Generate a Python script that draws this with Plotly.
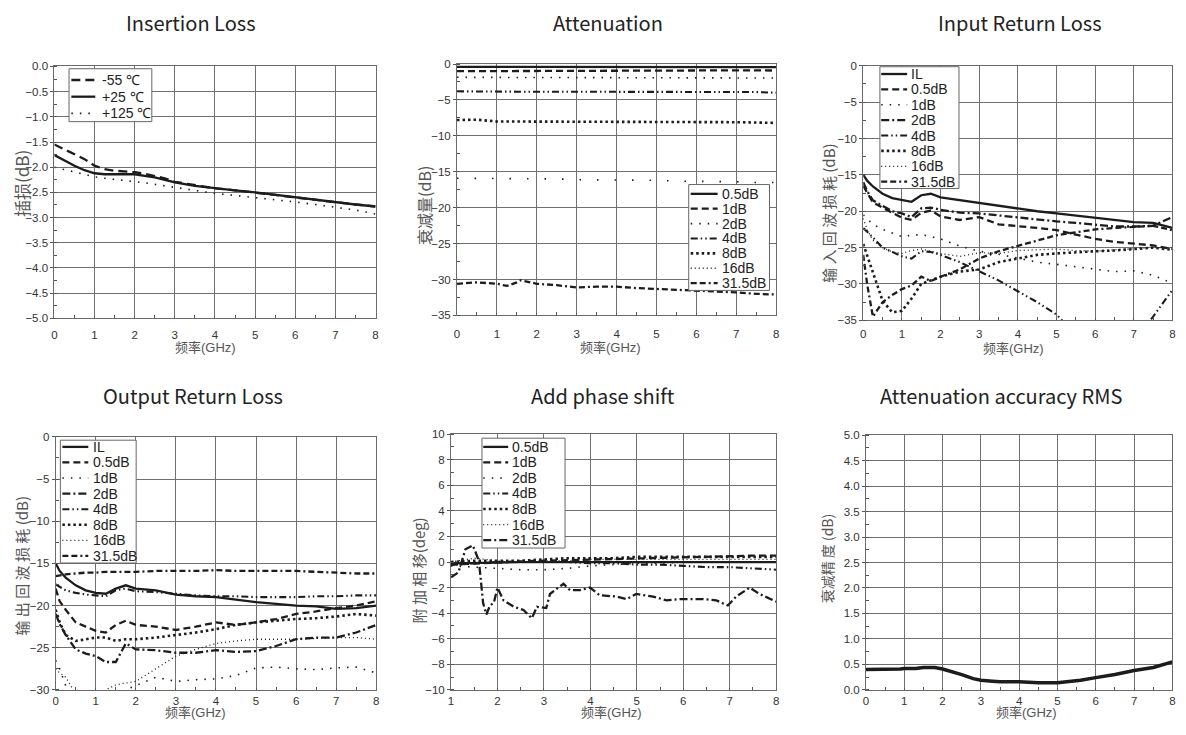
import plotly.graph_objects as go

W, H = 1186, 735
FW, FH = 1170, 719
# measured page mapping (figure px -> photographed px): o = A*f + B
XA, XB = 0.9975, 9.5
YA, YB = 0.9847, 13.2

# ---------------- DATA ----------------
# Panel 1: Insertion Loss
il_freq = [0, 0.25, 0.5, 0.75, 1, 1.25, 1.5, 1.75, 2, 2.25, 2.5, 2.75, 3, 3.5, 4, 4.5, 5, 5.5, 6, 6.5, 7, 7.5, 8]
il_m55 = [-1.55, -1.65, -1.74, -1.84, -1.97, -2.04, -2.07, -2.08, -2.10, -2.13, -2.17, -2.22, -2.29, -2.36, -2.42, -2.46, -2.50, -2.55, -2.60, -2.65, -2.70, -2.74, -2.78]
il_p25 = [-1.76, -1.87, -1.97, -2.06, -2.12, -2.14, -2.14, -2.14, -2.14, -2.17, -2.20, -2.25, -2.30, -2.37, -2.42, -2.46, -2.50, -2.55, -2.60, -2.65, -2.70, -2.74, -2.78]
il_p125 = [-2.00, -2.05, -2.10, -2.15, -2.19, -2.22, -2.24, -2.26, -2.28, -2.31, -2.34, -2.37, -2.40, -2.47, -2.52, -2.56, -2.60, -2.64, -2.69, -2.74, -2.79, -2.85, -2.93]
il_labels = ["-55 ℃", "+25 ℃", "+125 ℃"]

# Panel 2: Attenuation
att_freq = [0, 0.5, 1, 1.25, 1.5, 1.6, 1.75, 2, 2.5, 3, 3.5, 4, 4.5, 5, 5.5, 6, 6.5, 7, 7.5, 8]
att_05 = [-0.40, -0.40, -0.40, -0.40, -0.40, -0.40, -0.40, -0.40, -0.40, -0.40, -0.40, -0.40, -0.40, -0.40, -0.40, -0.40, -0.40, -0.40, -0.40, -0.42]
att_1 = [-1.00, -1.00, -1.00, -1.00, -1.00, -1.00, -1.00, -1.00, -1.00, -1.00, -1.00, -1.00, -1.00, -1.00, -0.95, -0.90, -0.88, -0.88, -0.88, -0.90]
att_2 = [-1.85, -1.85, -1.85, -1.85, -1.85, -1.85, -1.85, -1.85, -1.85, -1.85, -1.85, -1.85, -1.85, -1.85, -1.85, -1.88, -1.90, -1.90, -1.90, -1.95]
att_4 = [-3.80, -3.85, -3.85, -3.85, -3.85, -3.85, -3.85, -3.85, -3.85, -3.85, -3.85, -3.85, -3.85, -3.85, -3.85, -3.85, -3.85, -3.85, -3.90, -4.00]
att_8 = [-7.80, -7.75, -8.00, -8.00, -8.00, -8.00, -8.00, -8.00, -8.00, -8.00, -8.00, -8.00, -8.00, -8.00, -8.05, -8.05, -8.10, -8.10, -8.15, -8.20]
att_16 = [-15.90, -15.90, -16.00, -16.00, -16.00, -16.00, -16.00, -16.00, -16.00, -16.10, -16.10, -16.10, -16.20, -16.20, -16.30, -16.30, -16.40, -16.40, -16.50, -16.50]
att_315 = [-30.60, -30.40, -30.60, -30.90, -30.40, -30.10, -30.30, -30.60, -30.80, -31.10, -31.00, -31.00, -31.20, -31.30, -31.40, -31.50, -31.70, -31.80, -32.00, -32.10]
att_labels = ["0.5dB", "1dB", "2dB", "4dB", "8dB", "16dB", "31.5dB"]

# Panels 3 & 4: Return loss
rl_freq = [0, 0.1, 0.25, 0.5, 0.75, 1, 1.25, 1.5, 1.75, 2, 2.5, 3, 3.5, 4, 4.5, 5, 5.5, 6, 6.5, 7, 7.5, 8]
irl_il = [-15.0, -15.8, -16.6, -17.6, -18.2, -18.5, -18.7, -17.8, -17.6, -18.1, -18.5, -18.9, -19.3, -19.6, -20.0, -20.3, -20.6, -20.9, -21.3, -21.5, -21.6, -22.3]
irl_05 = [-16.5, -17.5, -18.8, -19.5, -20.2, -20.9, -21.2, -20.2, -19.9, -20.7, -21.2, -20.8, -21.8, -22.0, -22.3, -22.6, -23.2, -23.8, -24.2, -24.4, -24.7, -25.2]
irl_1 = [-20.5, -21.0, -21.8, -22.5, -23.0, -23.5, -23.3, -23.2, -23.5, -23.8, -24.8, -25.5, -25.9, -26.5, -27.0, -27.3, -27.6, -27.9, -28.3, -28.2, -28.8, -29.9]
irl_2 = [-16.0, -17.2, -18.5, -19.3, -20.0, -20.3, -20.8, -19.6, -19.5, -19.8, -20.2, -20.3, -20.6, -20.8, -21.2, -21.4, -21.6, -21.8, -22.1, -22.1, -22.0, -20.8]
irl_4 = [-22.3, -22.8, -23.6, -25.0, -25.6, -26.2, -26.5, -25.5, -25.6, -26.0, -27.0, -28.2, -29.5, -31.0, -32.5, -34.2, -37.0, -39.0, -39.0, -38.0, -34.5, -30.8]
irl_8 = [-24.5, -26.0, -28.5, -32.3, -33.9, -33.7, -32.0, -30.0, -29.5, -29.0, -28.3, -28.0, -27.0, -26.5, -26.0, -25.8, -25.6, -25.5, -25.4, -25.2, -25.0, -25.3]
irl_16 = [-21.0, -22.5, -24.0, -25.0, -25.6, -25.8, -25.4, -25.2, -25.5, -25.8, -26.2, -25.7, -25.8, -25.4, -25.3, -25.2, -25.4, -25.5, -25.3, -25.1, -25.0, -25.0]
irl_315 = [-26.0, -30.0, -34.5, -32.5, -31.5, -30.7, -30.2, -29.0, -29.6, -29.0, -28.0, -26.5, -25.5, -24.8, -24.0, -23.3, -22.9, -22.5, -22.3, -22.2, -22.0, -22.6]

orl_il = [-15.0, -15.9, -16.7, -17.6, -18.2, -18.5, -18.6, -18.0, -17.6, -18.0, -18.2, -18.7, -18.9, -19.0, -19.3, -19.6, -19.8, -20.0, -20.1, -20.4, -20.3, -20.0]
orl_05 = [-18.0, -19.5, -20.5, -22.0, -22.5, -23.0, -23.2, -22.3, -21.8, -22.3, -22.5, -22.9, -22.5, -22.0, -22.3, -22.0, -21.6, -21.0, -20.7, -20.3, -20.0, -19.5]
orl_1 = [-26.5, -27.5, -29.5, -31.0, -31.5, -31.0, -30.5, -30.5, -30.0, -29.5, -28.5, -29.0, -28.8, -28.7, -28.3, -27.4, -27.3, -27.5, -27.6, -27.4, -27.3, -28.0]
orl_2 = [-21.0, -22.2, -23.5, -25.2, -25.7, -26.0, -26.7, -26.7, -24.5, -25.2, -25.3, -25.6, -25.6, -25.3, -25.5, -25.4, -24.8, -24.0, -23.8, -23.8, -23.2, -22.3]
orl_4 = [-17.5, -17.8, -18.2, -18.5, -18.7, -18.8, -18.9, -18.2, -18.0, -18.3, -18.4, -18.6, -18.8, -18.9, -18.9, -19.0, -19.0, -19.0, -18.9, -18.9, -18.8, -18.8]
orl_8 = [-20.5, -22.0, -23.5, -24.2, -24.0, -23.8, -23.8, -24.2, -24.0, -24.0, -23.8, -23.5, -23.2, -22.8, -22.3, -22.0, -21.8, -21.6, -21.5, -21.3, -21.0, -21.2]
orl_16 = [-27.5, -28.0, -28.5, -30.5, -31.5, -31.0, -30.0, -29.4, -29.2, -29.0, -27.5, -26.0, -25.2, -24.5, -24.2, -24.0, -24.0, -24.0, -23.9, -23.8, -23.8, -24.0]
orl_315 = [-16.5, -16.4, -16.3, -16.2, -16.1, -16.1, -16.0, -16.0, -16.0, -16.0, -15.9, -15.9, -15.9, -15.8, -15.9, -15.9, -15.9, -15.9, -16.0, -16.1, -16.2, -16.2]
rl_labels = ["IL", "0.5dB", "1dB", "2dB", "4dB", "8dB", "16dB", "31.5dB"]

# Panel 5: Add phase shift
ph_freq = [1, 1.5, 2, 2.5, 3, 3.5, 4, 4.5, 5, 5.5, 6, 6.5, 7, 7.5, 8]
ph_05 = [-0.10, -0.10, -0.05, 0.00, 0.00, 0.00, 0.00, 0.00, 0.00, 0.00, 0.00, 0.00, 0.00, 0.00, 0.00]
ph_1 = [-0.20, -0.10, 0.00, 0.05, 0.10, 0.15, 0.20, 0.25, 0.30, 0.35, 0.40, 0.40, 0.45, 0.50, 0.50]
ph_2 = [-0.30, -0.40, -0.50, -0.60, -0.60, -0.50, -0.30, -0.20, -0.10, -0.10, 0.00, 0.00, 0.00, 0.00, 0.00]
ph_4 = [-0.20, -0.10, 0.00, 0.00, 0.00, 0.00, -0.10, -0.10, -0.20, -0.20, -0.30, -0.40, -0.40, -0.50, -0.60]
ph_8 = [0.00, 0.10, 0.10, 0.10, 0.20, 0.30, 0.30, 0.30, 0.40, 0.40, 0.40, 0.40, 0.40, 0.40, 0.40]
ph_16 = [0.00, 0.30, 0.10, 0.00, 0.10, 0.10, 0.20, 0.20, 0.20, 0.20, 0.20, 0.20, 0.20, 0.20, 0.20]
ph315_freq = [1.0, 1.16, 1.31, 1.47, 1.6, 1.63, 1.69, 1.76, 1.84, 1.92, 2.0, 2.13, 2.35, 2.56, 2.74, 2.85, 3.05, 3.13, 3.28, 3.42,
              3.56, 3.78, 3.99, 4.2, 4.56, 4.78, 4.99, 5.35, 5.64, 5.92, 6.21, 6.43, 6.71, 6.96, 7.14, 7.43, 7.64, 8.0]
ph_315 = [-1.2, -0.8, 1.0, 1.3, 0.1, -1.2, -3.2, -4.1, -3.4, -3.2, -2.0, -3.0, -3.5, -3.75, -4.4, -3.5, -3.6, -2.5, -2.1, -1.7,
          -2.2, -2.2, -2.0, -2.6, -2.7, -2.9, -2.5, -2.7, -3.0, -2.9, -2.9, -2.9, -3.0, -3.4, -2.7, -2.0, -2.5, -3.1]

# Panel 6: Attenuation accuracy RMS
rms_freq = [0, 0.5, 0.9, 1.0, 1.3, 1.5, 1.8, 2.0, 2.2, 2.5, 2.8, 3.0, 3.3, 3.5, 4.0, 4.2, 4.5, 5.0, 5.3, 5.6, 6.0, 6.5, 7.0, 7.5, 8.0]
rms_val = [0.40, 0.40, 0.41, 0.42, 0.42, 0.44, 0.44, 0.41, 0.37, 0.30, 0.22, 0.19, 0.17, 0.16, 0.16, 0.15, 0.14, 0.14, 0.16, 0.19, 0.24, 0.30, 0.38, 0.44, 0.55]

panel_titles = ["Insertion Loss", "Attenuation", "Input Return Loss",
                "Output Return Loss", "Add phase shift", "Attenuation accuracy RMS"]
x_title = "频率(GHz)"
y_titles = ["插损(dB)", "衰减量(dB)", "输 入 回 波 损 耗 (dB)",
            "输 出 回 波 损 耗 (dB)", "附 加 相 移(deg)", "衰减精 度 (dB)"]

# ---------------- STYLES ----------------
INK = "#1c1c1c"
STY = {
    "solid": dict(dash="solid", width=2.3),
    "dash": dict(dash="7px,4px", width=2.3),
    "longdash": dict(dash="9px,5px", width=2.3),
    "sparse": dict(dash="1.5px,7px", width=1.6),
    "vsparse": dict(dash="1.5px,16px", width=1.6),
    "dashdot": dict(dash="8px,3px,2px,3px", width=2.3),
    "dashdotdot": dict(dash="7px,3px,1.5px,3px,1.5px,3px", width=2.1),
    "densedot": dict(dash="2.5px,3px", width=2.6),
    "finedot": dict(dash="1px,3px", width=1.3),
    "dashdashdot": dict(dash="6px,3px,6px,3px,2px,3px", width=2.3),
}


def clamp(v):
    return max(0.0, min(1.0, v))


def px2x(t):
    f = (t - XB) / XA
    return clamp(f / FW)


def px2y(t):
    f = (t - YB) / YA
    return clamp(1 - f / FH)


# plot-area rectangles in photographed px: x0, x1, ytop, ybottom
areas = [
    (53, 375, 65.7, 318),
    (456.7, 776.7, 63.3, 315),
    (864, 1174, 65, 320),
    (54.3, 375.7, 436.7, 690),
    (450.7, 776.7, 434, 690),
    (866.7, 1174, 435, 690),
]
xlabel_standoff = [6, 8, 3, 0, 0, 0]

fig = go.Figure()


def add(i, x, y, style, width=None):
    s = STY[style]
    fig.add_trace(go.Scatter(
        x=x, y=y, mode="lines", showlegend=False, hoverinfo="skip",
        line=dict(color=INK, dash=s["dash"], width=width or s["width"]),
        xaxis="x" if i == 1 else f"x{i}", yaxis="y" if i == 1 else f"y{i}"))


# Panel 1
add(1, il_freq, il_p125, "sparse")
add(1, il_freq, il_m55, "longdash")
add(1, il_freq, il_p25, "solid")
# Panel 2
add(2, att_freq, att_05, "solid")
add(2, att_freq, att_1, "dash")
add(2, att_freq, att_2, "sparse")
add(2, att_freq, att_4, "dashdotdot")
add(2, att_freq, att_8, "densedot")
add(2, att_freq, att_16, "vsparse")
add(2, att_freq, att_315, "dashdashdot")
# Panel 3
for ys, st in [(irl_il, "solid"), (irl_05, "dash"), (irl_1, "sparse"), (irl_2, "dashdot"),
               (irl_4, "dashdotdot"), (irl_8, "densedot"), (irl_16, "finedot"), (irl_315, "dashdashdot")]:
    add(3, rl_freq, ys, st)
# Panel 4
for ys, st in [(orl_il, "solid"), (orl_05, "dash"), (orl_1, "sparse"), (orl_2, "dashdot"),
               (orl_4, "dashdotdot"), (orl_8, "densedot"), (orl_16, "finedot"), (orl_315, "dashdashdot")]:
    add(4, rl_freq, ys, st)
# Panel 5
for ys, st in [(ph_05, "solid"), (ph_1, "dash"), (ph_2, "sparse"), (ph_4, "dashdotdot"),
               (ph_8, "densedot"), (ph_16, "finedot")]:
    add(5, ph_freq, ys, st)
add(5, ph315_freq, ph_315, "dashdot")
# Panel 6
add(6, rms_freq, rms_val, "solid", width=3.5)

# ---------------- AXES ----------------
tickfont = dict(family="Liberation Sans, Arial, sans-serif", size=11.5, color="#333")
axis_common = dict(showline=True, mirror=True, linecolor="#6a6a6a", linewidth=1,
                   showgrid=True, gridcolor="#707070", gridwidth=1, zeroline=False,
                   tickcolor="#555", tickfont=tickfont, fixedrange=True)

x_ranges = [[0, 8], [0, 8], [0, 8], [0, 8], [1, 8], [0, 8]]
y_ranges = [[-5, 0], [-35, 0], [-35, 0], [-30, 0], [-10, 10], [0, 5]]
y_dticks = [0.5, 5, 5, 5, 2, 0.5]
y_formats = [".1f", "", "", "", "", ".1f"]

layout_axes = {}
for k in range(6):
    i = k + 1
    x0, x1, yt, yb = areas[k]
    xn = "xaxis" if i == 1 else f"xaxis{i}"
    yn = "yaxis" if i == 1 else f"yaxis{i}"
    layout_axes[xn] = dict(axis_common, domain=[px2x(x0), px2x(x1)], range=x_ranges[k],
                           dtick=1, tick0=0, ticks="inside", ticklen=2,
                           ticklabelstandoff=xlabel_standoff[k],
                           minor=dict(ticks="inside", ticklen=3, dtick=0.5, tickcolor="#555", showgrid=False),
                           anchor="y" if i == 1 else f"y{i}")
    layout_axes[yn] = dict(axis_common, domain=[px2y(yb), px2y(yt)], range=y_ranges[k],
                           dtick=y_dticks[k], tickformat=y_formats[k], ticks="outside", ticklen=3,
                           minor=dict(ticks="inside", ticklen=3, dtick=y_dticks[k] / 2, tickcolor="#555", showgrid=False),
                           anchor="x" if i == 1 else f"x{i}")

# ---------------- TEXT ----------------
annotations = []
title_pos = [(190, 22), (608, 22), (1021, 22), (192, 395), (603, 395), (1002, 395)]
for t, (cx, cy) in zip(panel_titles, title_pos):
    annotations.append(dict(text=t, x=px2x(cx), y=px2y(cy), xref="paper", yref="paper",
                            showarrow=False, xanchor="center", yanchor="middle",
                            font=dict(family="Noto Sans CJK SC, Noto Sans", size=20, color="#222")))

xt_pos = [(205, 347), (611, 347), (1015, 348), (194, 712.5), (612, 712.5), (1028, 712.5)]
for cx, cy in xt_pos:
    annotations.append(dict(text=x_title, x=px2x(cx), y=px2y(cy), xref="paper", yref="paper",
                            showarrow=False, xanchor="center", yanchor="middle",
                            font=dict(family="Liberation Sans, Noto Sans CJK SC", size=13, color="#555")))

yt_pos = [(20, 183), (423, 205), (829, 213), (20, 566), (418, 570), (828, 558)]
yt_size = [17, 16, 15, 15, 15, 14]
for t, (cx, cy), fs in zip(y_titles, yt_pos, yt_size):
    annotations.append(dict(text=t, x=px2x(cx), y=px2y(cy), xref="paper", yref="paper",
                            showarrow=False, xanchor="center", yanchor="middle", textangle=-90,
                            font=dict(family="Noto Sans CJK SC", size=fs, color="#555")))

# ---------------- LEGENDS (drawn boxes) ----------------
shapes = []
legends = [
    # box(x0,y0,x1,y1), first row y, step, sample x0,x1, text x, labels, styles
    ((67.7, 68, 150.7, 121), 79.3, 16.7, (70, 94), 99, il_labels, ["longdash", "solid", "sparse"]),
    ((689, 184, 770, 290), 193.3, 14.9, (691, 718), 720, att_labels,
     ["solid", "dash", "sparse", "dashdotdot", "densedot", "finedot", "dashdashdot"]),
    ((880.7, 66, 960, 188), 73.3, 15.4, (882, 908), 910, rl_labels,
     ["solid", "dash", "sparse", "dashdot", "dashdotdot", "densedot", "finedot", "dashdashdot"]),
    ((59, 440, 135, 563), 446.7, 15.6, (61, 87), 90, rl_labels,
     ["solid", "dash", "sparse", "dashdot", "dashdotdot", "densedot", "finedot", "dashdashdot"]),
    ((481.7, 438, 565, 548), 446.7, 15.55, (483, 508), 510, att_labels,
     ["solid", "dash", "sparse", "dashdotdot", "densedot", "finedot", "dashdot"]),
]
for (bx0, by0, bx1, by1), r0, step, (sx0, sx1), tx, labels, styles in legends:
    shapes.append(dict(type="rect", xref="paper", yref="paper", layer="above",
                       x0=px2x(bx0), x1=px2x(bx1), y0=px2y(by1), y1=px2y(by0),
                       line=dict(color="#666", width=1), fillcolor="white"))
    for j, (lab, st) in enumerate(zip(labels, styles)):
        yy = r0 + j * step
        s = STY[st]
        shapes.append(dict(type="line", xref="paper", yref="paper", layer="above",
                           x0=px2x(sx0), x1=px2x(sx1), y0=px2y(yy), y1=px2y(yy),
                           line=dict(color=INK, width=s["width"], dash=s["dash"])))
        annotations.append(dict(text=lab, x=px2x(tx), y=px2y(yy), xref="paper", yref="paper",
                                showarrow=False, xanchor="left", yanchor="middle",
                                font=dict(family="Liberation Sans, Arial", size=14, color="#222")))

fig.update_layout(
    width=FW, height=FH, margin=dict(l=0, r=0, t=0, b=0),
    paper_bgcolor="white", plot_bgcolor="white",
    showlegend=False, annotations=annotations, shapes=shapes,
    **layout_axes)

fig.write_html("out.html")
